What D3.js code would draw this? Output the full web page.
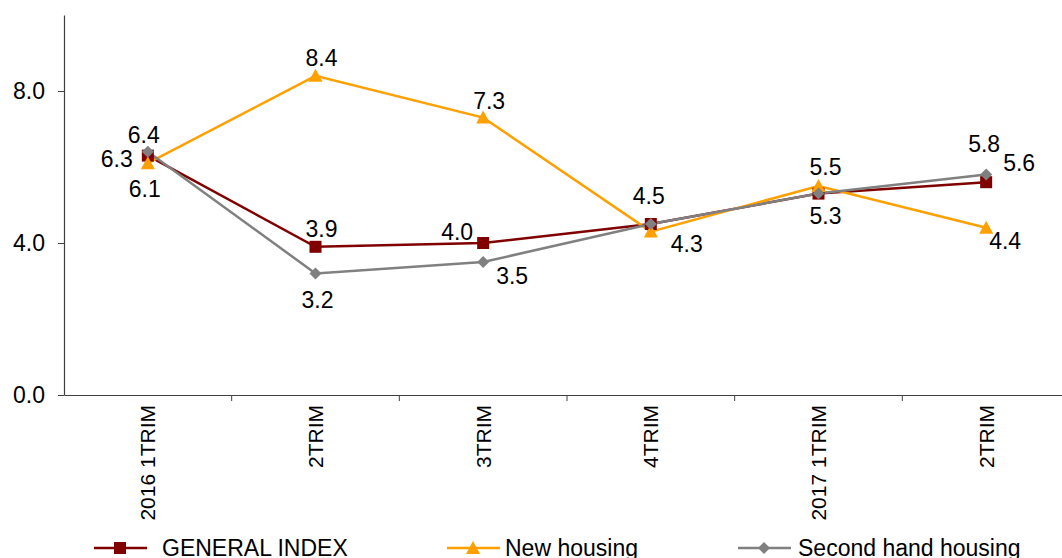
<!DOCTYPE html>
<html>
<head>
<meta charset="utf-8">
<script src="https://cdn.jsdelivr.net/npm/d3@7"></script>
<style>
  body { margin: 0; background: #fff; }
  text { font-family: "Liberation Sans", Arial, sans-serif; fill: #000; }
</style>
</head>
<body>
<div id="chart"></div>
<script>
// data
const categories = ['2016 1TRIM', '2TRIM', '3TRIM', '4TRIM', '2017 1TRIM', '2TRIM '];
const generalIndex = [6.3, 3.9, 4.0, 4.5, 5.3, 5.6];
const newHousing = [6.1, 8.4, 7.3, 4.3, 5.5, 4.4];
const secondHand = [6.4, 3.2, 3.5, 4.5, 5.3, 5.8];
const yTicks = [0, 4, 8];

const svgWidth = 1062, svgHeight = 558;
const margin = {left: 64, top: 15, bottom: 163};
const height = svgHeight - margin.top - margin.bottom;

// label offsets (dx, dy) relative to each point
const series = [
    {name: 'GENERAL INDEX', values: generalIndex, color: '#800000', marker: 'square',
     labels: [[-31, 3], [6, -18], [-26, -11], [-2, -28], [null], [33, -19]]},
    {name: 'New housing', values: newHousing, color: '#FFA000', marker: 'triangle',
     labels: [[-3, 26], [6, -18], [6, -17], [36, 12], [7, -19], [19, 13]]},
    {name: 'Second hand housing', values: secondHand, color: '#808080', marker: 'diamond',
     labels: [[-4, -17], [2, 27], [29, 14], [null], [7, 22], [-2, -31]]}
];

let svg = d3.select('#chart')
    .append('svg')
    .attr('width', svgWidth)
    .attr('height', svgHeight);

let xScale = d3.scaleBand()
    .domain(categories)
    .range([margin.left, 1070]);

let yScale = d3.scaleLinear()
    .domain([0, 10])
    .range([margin.top + height, margin.top]);

// axes
let yAxis = svg.append('g')
    .attr('transform', `translate(${margin.left},0)`)
    .call(d3.axisLeft(yScale).tickValues(yTicks).tickFormat(d3.format('.1f')).tickSize(6).tickSizeOuter(0));
yAxis.select('.domain').attr('stroke', '#404040').attr('stroke-width', 1.2);
yAxis.selectAll('.tick line').attr('stroke', '#404040');
yAxis.selectAll('text').style('font-size', '23px').attr('x', -19).attr('fill', '#000');

let xAxis = svg.append('g')
    .attr('transform', `translate(0,${margin.top + height})`)
    .call(d3.axisBottom(xScale).tickSize(0).tickSizeOuter(0));
xAxis.select('.domain').attr('stroke', '#404040').attr('stroke-width', 1.2);
xAxis.selectAll('text')
    .style('font-size', '21px')
    .attr('fill', '#000')
    .attr('transform', 'rotate(-90)')
    .attr('x', -10)
    .attr('y', 0)
    .attr('dy', '0.35em')
    .style('text-anchor', 'end');

// tick marks between categories
svg.append('g')
    .selectAll('line')
    .data(categories.slice(1))
    .join('line')
    .attr('x1', d => xScale(d))
    .attr('x2', d => xScale(d))
    .attr('y1', margin.top + height)
    .attr('y2', margin.top + height + 6)
    .attr('stroke', '#404040');

const cx = i => xScale(categories[i]) + xScale.bandwidth() / 2;

function drawMarker(g, type, color) {
    if (type === 'square') {
        g.append('rect').attr('x', -6).attr('y', -6).attr('width', 12).attr('height', 12).attr('fill', color);
    } else if (type === 'triangle') {
        g.append('path').attr('d', 'M0,-7L7,6L-7,6Z').attr('fill', color);
    } else {
        g.append('path').attr('d', 'M0,-6L6,0L0,6L-6,0Z').attr('fill', color);
    }
}

let line = d3.line()
    .x((d, i) => cx(i))
    .y(d => yScale(d));

series.forEach(s => {
    svg.append('path')
        .datum(s.values)
        .attr('d', line)
        .attr('fill', 'none')
        .attr('stroke', s.color)
        .attr('stroke-width', 2.5);
});

series.forEach(s => {
    s.values.forEach((v, i) => {
        let g = svg.append('g').attr('transform', `translate(${cx(i)},${yScale(v)})`);
        drawMarker(g, s.marker, s.color);
    });
});

series.forEach(s => {
    s.values.forEach((v, i) => {
        let off = s.labels[i];
        if (off[0] === null) return;
        svg.append('text')
            .attr('x', cx(i) + off[0])
            .attr('y', yScale(v) + off[1])
            .attr('dy', '0.35em')
            .attr('text-anchor', 'middle')
            .style('font-size', '23px')
            .text(d3.format('.1f')(v));
    });
});

// legend
const legendX = [94, 447, 738];
series.forEach((s, i) => {
    let g = svg.append('g').attr('transform', `translate(${legendX[i]},548)`);
    g.append('line').attr('x1', 0).attr('x2', 53).attr('stroke', s.color).attr('stroke-width', 2.5);
    let m = g.append('g').attr('transform', 'translate(26,0)');
    drawMarker(m, s.marker, s.color);
    g.append('text')
        .attr('x', i === 0 ? 68 : (i === 1 ? 58 : 60))
        .attr('dy', '0.35em')
        .style('font-size', '23px')
        .text(s.name);
});
</script>
</body>
</html>
